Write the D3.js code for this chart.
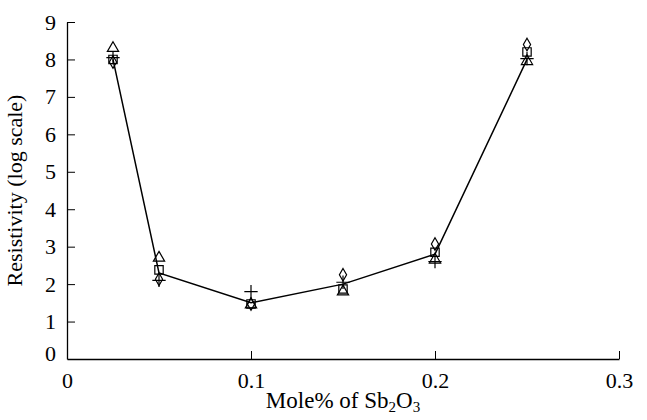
<!DOCTYPE html>
<html>
<head>
<meta charset="utf-8">
<script src="https://cdn.jsdelivr.net/npm/d3@7"></script>
<style>
body { margin: 0; background: #fff; }
text { font-family: "Liberation Serif", "Times New Roman", serif; fill: #000; }
</style>
</head>
<body>
<div id="main"></div>
<script>
// data
var molePct = [0.025, 0.05, 0.1, 0.15, 0.2, 0.25]
var fitLine = [8.0, 2.3, 1.5, 2.0, 2.8, 8.0]
var triangles = [8.3, 2.7, 1.45, 1.8, 2.65, 7.95]
var squares = [8.0, 2.38, 1.47, 1.87, 2.85, 8.2]
var diamonds = [7.93, 2.13, 1.47, 2.25, 3.07, 8.4]
var pluses = [8.05, 2.1, 1.8, 2.05, 2.6, 8.02]
var xTicks = [0, 0.1, 0.2, 0.3]
var yTicks = [0, 1, 2, 3, 4, 5, 6, 7, 8, 9]

var W = 647, H = 420
var margin = { top: 22, left: 67, right: 28, bottom: 61 }

var svg = d3.select("#main")
	.append("svg")
	.attr("width", W)
	.attr("height", H)

var x = d3.scaleLinear().domain([0, 0.3]).range([margin.left, W - margin.right])
var y = d3.scaleLinear().domain([0, 9]).range([H - margin.bottom, margin.top])

// x axis, ticks pointing inward
var xAxis = svg.append("g")
	.attr("transform", "translate(0," + y(0) + ")")
	.call(d3.axisBottom(x).tickValues(xTicks).tickSizeInner(-8).tickSizeOuter(0).tickPadding(13)
		.tickFormat(function(d) { return d === 0 ? "0" : d3.format(".1f")(d) }))
xAxis.selectAll("text").style("font-size", "22px")
xAxis.select(".domain").attr("stroke-width", 1.3)

var yAxis = svg.append("g")
	.attr("transform", "translate(" + x(0) + ",0)")
	.call(d3.axisLeft(y).tickValues(yTicks).tickSizeInner(-8).tickSizeOuter(0).tickPadding(11))
yAxis.selectAll("text").style("font-size", "22px")
yAxis.select(".domain").attr("stroke-width", 1.3)
// the 0 on y sits a bit high in the reference
var zeroTick = yAxis.selectAll(".tick").filter(function(d) { return d === 0 })
zeroTick.select("line").remove()
zeroTick.select("text").attr("y", -6)

// axis titles
var xt = svg.append("text")
	.attr("x", x(0.15))
	.attr("y", 408)
	.attr("text-anchor", "middle")
	.style("font-size", "23px")
xt.append("tspan").text("Mole% of Sb")
xt.append("tspan").text("2").attr("font-size", "15px").attr("dy", 4)
xt.append("tspan").text("O").attr("dy", -4)
xt.append("tspan").text("3").attr("font-size", "15px").attr("dy", 4)

svg.append("text")
	.attr("transform", "translate(22," + y(4.5) + ") rotate(-90)")
	.attr("text-anchor", "middle")
	.style("font-size", "22px")
	.text("Resistivity (log scale)")

// connecting line
var line = d3.line()
	.x(function(d, i) { return x(molePct[i]) })
	.y(function(d) { return y(d) })

svg.append("path")
	.datum(fitLine)
	.attr("d", line)
	.attr("fill", "none")
	.attr("stroke", "#000")
	.attr("stroke-width", 1.5)

function markers(vals, shape, size) {
	svg.append("g").selectAll("path")
		.data(vals)
		.enter()
		.append("path")
		.attr("transform", function(d, i) { return "translate(" + x(molePct[i]) + "," + y(d) + ")" })
		.attr("d", d3.symbol().type(shape).size(size))
		.attr("fill", "none")
		.attr("stroke", "#000")
		.attr("stroke-width", 1.2)
}

markers(triangles, d3.symbolTriangle, 55)
markers(squares, d3.symbolSquare, 70)
markers(diamonds, d3.symbolDiamond, 45)
markers(pluses, d3.symbolCross2 || d3.symbolPlus, 60)
</script>
</body>
</html>
